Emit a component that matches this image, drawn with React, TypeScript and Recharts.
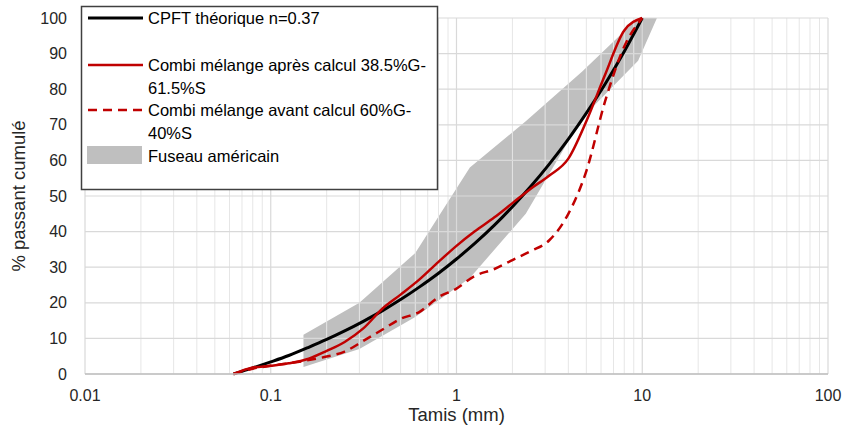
import {
  Area,
  CartesianGrid,
  ComposedChart,
  Line,
  ReferenceLine,
  XAxis,
  YAxis
} from "recharts";

// tamis (mm) for the three curves
const sieves = [
  0.063, 0.08, 0.1, 0.125, 0.16, 0.2, 0.25, 0.315, 0.4, 0.5, 0.63, 0.8, 1, 1.25, 1.6, 2, 2.5, 3.15, 4, 5,
  6.3, 8, 10
];
const cpft = [
  0, 1.7, 3.4, 5.2, 7.5, 9.7, 12.1, 14.8, 17.8, 20.9, 24.4, 28.3, 32.3, 36.6, 41.8, 47, 52.6, 58.9, 66,
  73.3, 81.4, 90.6, 100
];
const apres = [
  0, 1.8, 2.3, 3, 4.3, 6.5, 9, 12.8, 18.4, 22.3, 26.5, 31.5, 36, 40, 44, 48, 52, 55.7, 60.5, 71, 84,
  96.5, 100
];
const avant = [
  0, 1.5, 2.3, 3, 3.9, 4.9, 6.3, 9.3, 12.5, 15.5, 17.4, 21.6, 24, 27.5, 29.5, 32, 34.5, 37.5, 45, 57,
  76.5, 92, 100
];

// fuseau américain
const fuseauD = [0.15, 0.3, 0.6, 1.18, 2.36, 4.75, 9.5, 12];
const fuseauMin = [2, 7, 16, 27, 45, 72, 88, 100];
const fuseauMax = [11, 20, 34, 58, 71, 85, 100, 100];

const xTicks = [0.01, 0.1, 1, 10, 100];
const yTicks = [0, 10, 20, 30, 40, 50, 60, 70, 80, 90, 100];

const minorX: number[] = [];
for (const dec of [0.01, 0.1, 1, 10]) {
  for (let m = 2; m <= 9; m++) minorX.push(+(dec * m).toPrecision(3));
}

const curveData = sieves.map((d, i) => ({ d, cpft: cpft[i], apres: apres[i], avant: avant[i] }));
const bandData = fuseauD.map((d, i) => ({ d, range: [fuseauMin[i], fuseauMax[i]] }));

const FONT = "'Liberation Sans', Arial, sans-serif";
const TXT = "#262626";

function LegendBox() {
  const t = { fontFamily: FONT, fontSize: 16.5, fill: "#000", dominantBaseline: "central" as const };
  return (
    <svg width={843} height={427} style={{ position: "absolute", left: 0, top: 0, pointerEvents: "none" }}>
      <rect x={81.5} y={6.5} width={356} height={183} fill="#fff" stroke="#404040" strokeWidth={1.5} />
      <line x1={88} x2={143} y1={18} y2={18} stroke="#000" strokeWidth={3} />
      <text x={148} y={18} {...t}>CPFT théorique n=0.37</text>
      <line x1={88} x2={143} y1={65} y2={65} stroke="#c00000" strokeWidth={2.5} />
      <text x={148} y={65} {...t}>Combi mélange après calcul 38.5%G-</text>
      <text x={148} y={88} {...t}>61.5%S</text>
      <line x1={88} x2={143} y1={110} y2={110} stroke="#c00000" strokeWidth={2.5} strokeDasharray="9 6" />
      <text x={148} y={110} {...t}>Combi mélange avant calcul 60%G-</text>
      <text x={148} y={133} {...t}>40%S</text>
      <rect x={87} y={146} width={55} height={18} fill="#bfbfbf" />
      <text x={148} y={156} {...t}>Fuseau américain</text>
    </svg>
  );
}

export default function App() {
  return (
    <div style={{ position: "relative", width: 843, height: 427, background: "#fff" }}>
      <style>{`body{margin:0}`}</style>
      <ComposedChart
        width={843}
        height={427}
        data={curveData}
        margin={{ top: 18, right: 15, bottom: 0, left: 0 }}
      >
        <XAxis
          dataKey="d"
          type="number"
          scale="log"
          domain={[0.01, 100]}
          ticks={xTicks}
          allowDataOverflow
          height={53}
          tickSize={0}
          tickMargin={16}
          axisLine={{ stroke: "#bfbfbf", strokeWidth: 1.5 }}
          tick={{ fontSize: 16, fontFamily: FONT, fill: TXT }}
          tickFormatter={(v) => String(v)}
          label={{
            value: "Tamis (mm)",
            position: "insideBottom",
            offset: 6,
            style: { fontSize: 18.5, fontFamily: FONT, fill: TXT }
          }}
        />
        <YAxis
          type="number"
          domain={[0, 100]}
          ticks={yTicks}
          width={85}
          tickSize={0}
          tickMargin={18}
          axisLine={false}
          tick={{ fontSize: 16, fontFamily: FONT, fill: TXT }}
          label={{
            value: "% passant cumulé",
            angle: -90,
            position: "insideLeft",
            offset: 18,
            style: { textAnchor: "middle", fontSize: 18.5, fontFamily: FONT, fill: TXT }
          }}
        />
        <Area
          data={bandData}
          dataKey="range"
          type="linear"
          stroke="none"
          fill="#bfbfbf"
          fillOpacity={1}
          isAnimationActive={false}
          zIndex={100}
        />
        {minorX.map((v) => (
          <ReferenceLine key={v} x={v} stroke="#e6e6e6" strokeWidth={1} zIndex={140} />
        ))}
        <CartesianGrid stroke="#d9d9d9" strokeWidth={1.2} zIndex={150} />
        <Line
          dataKey="cpft"
          type="monotone"
          stroke="#000"
          strokeWidth={3}
          dot={false}
          isAnimationActive={false}
          zIndex={400}
        />
        <Line
          dataKey="apres"
          type="monotone"
          stroke="#c00000"
          strokeWidth={2.5}
          dot={false}
          isAnimationActive={false}
          zIndex={400}
        />
        <Line
          dataKey="avant"
          type="monotone"
          stroke="#c00000"
          strokeWidth={2.5}
          strokeDasharray="9 6"
          dot={false}
          isAnimationActive={false}
          zIndex={400}
        />
      </ComposedChart>
      <LegendBox />
    </div>
  );
}
